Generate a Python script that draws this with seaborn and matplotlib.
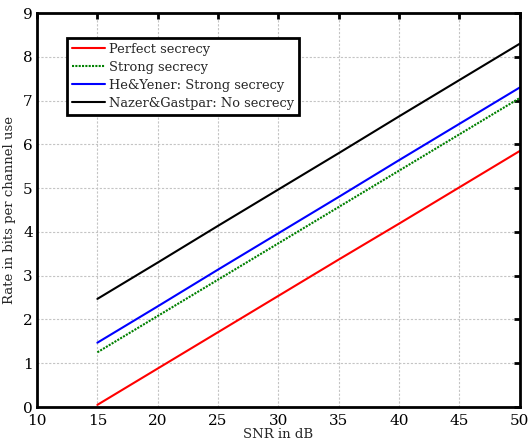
import matplotlib
matplotlib.use("Agg")
import matplotlib.pyplot as plt
import pandas as pd
import seaborn as sns

# values
snr_db = [15, 20, 25, 30, 35, 40, 45, 50]
perfect = [0.05, 0.88, 1.71, 2.54, 3.37, 4.19, 5.02, 5.85]
strong = [1.25, 2.08, 2.91, 3.74, 4.57, 5.40, 6.23, 7.06]
he_yener = [1.47, 2.30, 3.14, 3.97, 4.80, 5.64, 6.47, 7.30]
nazer = [2.47, 3.30, 4.14, 4.97, 5.80, 6.64, 7.47, 8.30]

labels = ["Perfect secrecy", "Strong secrecy",
          "He&Yener: Strong secrecy", "Nazer&Gastpar: No secrecy"]
series = [perfect, strong, he_yener, nazer]

rows = []
for name, vals in zip(labels, series):
    for x, y in zip(snr_db, vals):
        rows.append({"SNR": x, "Rate": y, "Scheme": name})
df = pd.DataFrame(rows)

sns.set_style("white")
plt.rcParams["font.family"] = ["DejaVu Serif"]

fig = plt.figure(figsize=(5.31, 4.41), dpi=100)
ax = fig.add_axes([0.0697, 0.077, 0.9093, 0.8935])

palette = {labels[0]: "#ff0000", labels[1]: "#008000",
           labels[2]: "#0000ff", labels[3]: "#000000"}
sns.lineplot(data=df, x="SNR", y="Rate", hue="Scheme", palette=palette,
             ax=ax, linewidth=1.5, legend=False)
ax.get_lines()[1].set_linestyle((0, (1, 0.6)))

ax.set_xlim(10, 50)
ax.set_ylim(0, 9)
ax.set_xticks(range(10, 51, 5))
ax.set_yticks(range(0, 10))
ax.grid(True, color="#c4c4c4", linestyle=(0, (2, 1.5)), linewidth=0.8)
ax.tick_params(direction="in", top=True, right=True, length=4, width=2,
               labelsize=11, colors="black")
ax.tick_params(axis="x", pad=5)
ax.tick_params(axis="y", pad=3)
for s in ax.spines.values():
    s.set_linewidth(2)
    s.set_color("black")
ax.set_xlabel("SNR in dB", fontsize=9.5, labelpad=0)
ax.set_ylabel("Rate in bits per channel use", fontsize=9.5, labelpad=5)

handles = ax.get_lines()[:4]
leg = ax.legend(handles, labels, loc="upper left",
                bbox_to_anchor=(0.062, 0.937), fontsize=9.4,
                fancybox=False, framealpha=1, edgecolor="black",
                borderpad=0.4, labelspacing=0.38, handlelength=2.5,
                handletextpad=0.3, borderaxespad=0)
leg.get_frame().set_linewidth(2)

fig.savefig("out.png", dpi=100)
